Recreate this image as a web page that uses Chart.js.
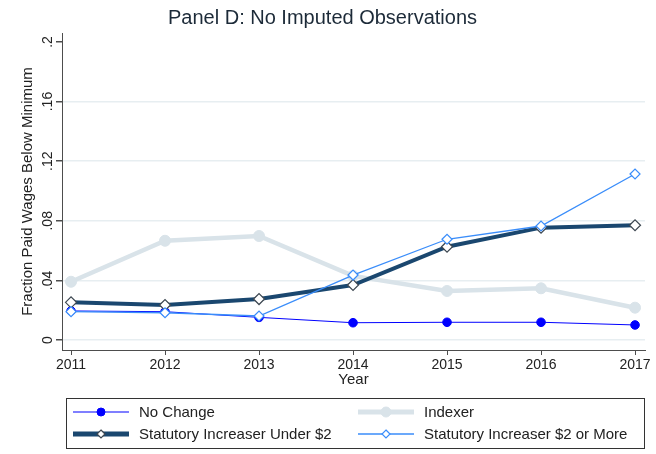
<!DOCTYPE html>
<html>
<head>
<meta charset="utf-8">
<script src="https://cdn.jsdelivr.net/npm/chart.js@4/dist/chart.umd.min.js"></script>
<style>
  html, body { margin: 0; padding: 0; background: #fff; }
  #wrap { width: 656px; height: 454px; }
</style>
</head>
<body>
<div id="wrap"><canvas id="chart" width="656" height="454"></canvas></div>
<script>
// data
const years = [2011, 2012, 2013, 2014, 2015, 2016, 2017];
const noChange = [0.0195, 0.0190, 0.0152, 0.0116, 0.0119, 0.0119, 0.0101];
const indexer = [0.0391, 0.0666, 0.0698, 0.0430, 0.0329, 0.0347, 0.0217];
const increaserUnder2 = [0.0253, 0.0235, 0.0275, 0.0369, 0.0626, 0.0754, 0.0770];
const increaser2More = [0.0190, 0.0183, 0.0161, 0.0436, 0.0676, 0.0765, 0.1114];
const yTicks = [0, 0.04, 0.08, 0.12, 0.16, 0.2];
const yTickLabels = ['0', '.04', '.08', '.12', '.16', '.2'];

const FONT = 'Liberation Sans, Arial, sans-serif';
const TEXT = '#222';
const AXIS = '#4d4d4d';
const GRID = '#e7eef1';

function pts(values) {
    return values.map(function(v, i) { return { x: years[i], y: v }; });
}

function drawMarker(ctx, style, x, y, r, fill, stroke, lw) {
    ctx.save();
    ctx.beginPath();
    if (style === 'rectRot') {
        ctx.moveTo(x, y - r);
        ctx.lineTo(x + r, y);
        ctx.lineTo(x, y + r);
        ctx.lineTo(x - r, y);
        ctx.closePath();
    } else {
        ctx.arc(x, y, r, 0, Math.PI * 2);
    }
    ctx.fillStyle = fill;
    ctx.fill();
    ctx.lineWidth = lw;
    ctx.strokeStyle = stroke;
    ctx.stroke();
    ctx.restore();
}

// Stata-style boxed legend, two columns, drawn under the axes
const boxLegend = {
    id: 'boxLegend',
    afterDraw: function(chart) {
        const ctx = chart.ctx;
        const box = { left: 66.5, top: 398.5, right: 644.5, bottom: 448.5 };
        ctx.save();
        ctx.strokeStyle = '#333';
        ctx.lineWidth = 1;
        ctx.strokeRect(box.left, box.top, box.right - box.left, box.bottom - box.top);

        const cols = [{ x0: 73, x1: 129, tx: 139 }, { x0: 358, x1: 414, tx: 424 }];
        const rows = [412, 434];
        chart.data.datasets.forEach(function(ds, i) {
            const c = cols[i % 2];
            const y = rows[Math.floor(i / 2)];
            ctx.beginPath();
            ctx.moveTo(c.x0, y);
            ctx.lineTo(c.x1, y);
            ctx.lineWidth = ds.legendLineWidth;
            ctx.strokeStyle = ds.borderColor;
            ctx.stroke();
            drawMarker(ctx, ds.pointStyle, (c.x0 + c.x1) / 2, y, ds.legendRadius,
                ds.pointBackgroundColor, ds.pointBorderColor, ds.pointBorderWidth);
            ctx.fillStyle = TEXT;
            ctx.font = '15px ' + FONT;
            ctx.textAlign = 'left';
            ctx.textBaseline = 'middle';
            ctx.fillText(ds.label, c.tx, y + 1);
        });
        ctx.restore();
    }
};

new Chart(document.getElementById('chart'), {
    type: 'line',
    data: {
        datasets: [
            {
                label: 'No Change',
                data: pts(noChange),
                borderColor: '#0000ff',
                borderWidth: 1,
                pointStyle: 'circle',
                pointRadius: 4.3,
                pointBackgroundColor: '#0000ff',
                pointBorderColor: '#0000ff',
                pointBorderWidth: 1,
                legendLineWidth: 1.2,
                legendRadius: 4,
                order: 4,
            },
            {
                label: 'Indexer',
                data: pts(indexer),
                borderColor: '#d9e3e9',
                borderWidth: 4.5,
                pointStyle: 'circle',
                pointRadius: 5.5,
                pointBackgroundColor: '#d9e3e9',
                pointBorderColor: '#d9e3e9',
                pointBorderWidth: 1,
                legendLineWidth: 5,
                legendRadius: 5,
                order: 3,
            },
            {
                label: 'Statutory Increaser Under $2',
                data: pts(increaserUnder2),
                borderColor: '#1a476f',
                borderWidth: 4,
                pointStyle: 'rectRot',
                pointRadius: 5.5,
                pointBackgroundColor: '#ffffff',
                pointBorderColor: '#3c4650',
                pointBorderWidth: 1.2,
                legendLineWidth: 5,
                legendRadius: 4,
                order: 2,
            },
            {
                label: 'Statutory Increaser $2 or More',
                data: pts(increaser2More),
                borderColor: '#3a8dfa',
                borderWidth: 1.3,
                pointStyle: 'rectRot',
                pointRadius: 5,
                pointBackgroundColor: '#ffffff',
                pointBorderColor: '#3a8dfa',
                pointBorderWidth: 1.2,
                legendLineWidth: 1.5,
                legendRadius: 4,
                order: 1,
            },
        ]
    },
    options: {
        responsive: false,
        devicePixelRatio: 1,
        animation: false,
        layout: { padding: { left: 0, right: 11, top: 0, bottom: 0 } },
        plugins: {
            legend: { display: false },
            tooltip: { enabled: false },
            title: {
                display: true,
                text: 'Panel D: No Imputed Observations',
                color: '#1c2a38',
                font: { family: FONT, size: 20, weight: 'normal' },
                padding: { top: 6, bottom: 3 },
            }
        },
        scales: {
            x: {
                type: 'linear',
                min: 2010.904,
                max: 2017.106,
                afterFit: function(scale) { scale.height = 104; },
                afterBuildTicks: function(scale) {
                    scale.ticks = years.map(function(v) { return { value: v }; });
                },
                ticks: {
                    color: TEXT,
                    padding: 2,
                    maxRotation: 0,
                    font: { family: FONT, size: 14 },
                    callback: function(v) { return String(v); }
                },
                grid: {
                    drawOnChartArea: false,
                    drawTicks: true,
                    tickLength: 5,
                    tickColor: AXIS,
                },
                border: { display: true, color: AXIS, width: 1 },
                title: {
                    display: true,
                    text: 'Year',
                    color: TEXT,
                    font: { family: FONT, size: 15 },
                    padding: { top: 0, bottom: 65 },
                }
            },
            y: {
                min: -0.0067,
                max: 0.206,
                afterFit: function(scale) { scale.width = 62; },
                afterBuildTicks: function(scale) {
                    scale.ticks = yTicks.map(function(v) { return { value: v }; });
                },
                ticks: {
                    color: TEXT,
                    padding: -2,
                    minRotation: 90,
                    maxRotation: 90,
                    crossAlign: 'center',
                    font: { family: FONT, size: 14 },
                    callback: function(v, i) { return yTickLabels[i]; }
                },
                grid: {
                    color: function(c) { return c.tick && c.tick.value === 0.2 ? 'rgba(0,0,0,0)' : GRID; },
                    lineWidth: 1.5,
                    tickLength: 6,
                    tickColor: AXIS,
                },
                border: { display: true, color: AXIS, width: 1 },
                title: {
                    display: true,
                    text: 'Fraction Paid Wages Below Minimum',
                    color: TEXT,
                    font: { family: FONT, size: 15 },
                    padding: { top: 19, bottom: 0 },
                }
            }
        }
    },
    plugins: [boxLegend]
});
</script>
</body>
</html>
